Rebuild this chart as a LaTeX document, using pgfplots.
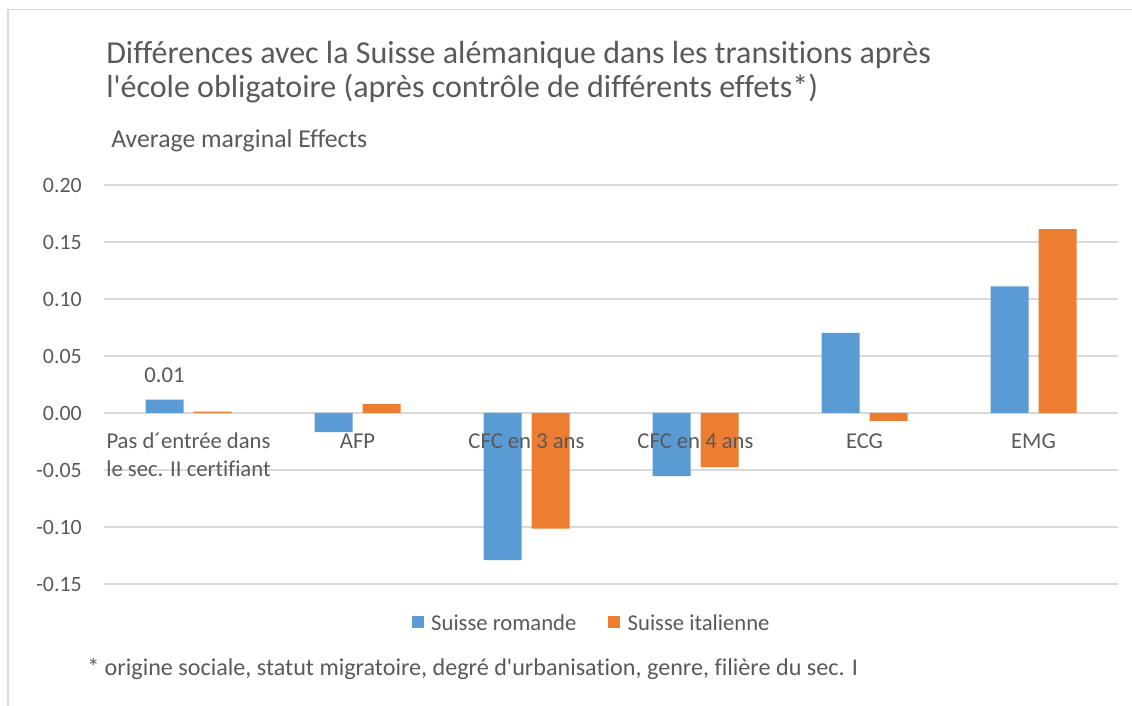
\documentclass[border=0pt]{standalone}
\usepackage{pgfplots}
\pgfplotsset{compat=1.18}
\usepackage{fontspec}
\setmainfont{Carlito}[Ligatures={NoCommon}]
\definecolor{txt}{HTML}{595959}
\definecolor{gridc}{HTML}{D9D9D9}
\definecolor{cblue}{HTML}{5B9BD5}
\definecolor{corange}{HTML}{ED7D31}
\newcommand{\lab}{\fontsize{17bp}{21bp}\selectfont}
\newcommand{\ylab}{\fontsize{16.4bp}{20bp}\selectfont}
\pgfplotsset{base/.style={
  at={(78bp,91.5bp)}, anchor=south west,
  scale only axis, width=760.5bp, height=299.25bp,
  xmin=-0.5, xmax=5.5, ymin=-0.15, ymax=0.20,
  axis line style={draw=none}, tick style={draw=none}}}
\begin{document}
\begin{tikzpicture}
\path[use as bounding box] (0bp,0bp) rectangle (849bp,529.5bp);
\draw[gridc, line width=1.2bp] (6bp,522.4bp) -- (849bp,522.4bp);
\draw[gridc, line width=1.2bp] (6bp,522.4bp) -- (6bp,0bp);
\node[anchor=base west, inner sep=0pt, text=txt, font=\fontsize{24bp}{27bp}\selectfont] at (79.5bp,481.5bp) {Différences avec la Suisse alémanique dans les transitions après};
\node[anchor=base west, inner sep=0pt, text=txt, font=\fontsize{24bp}{27bp}\selectfont] at (79.5bp,456bp) {l\textquotesingle école obligatoire (après contrôle de différents effets*)};
\node[anchor=base west, inner sep=0pt, text=txt, font=\fontsize{19.3bp}{23bp}\selectfont] at (83.25bp,418.5bp) {Average marginal Effects};
\node[anchor=base west, inner sep=0pt, text=txt, font=\fontsize{18.1bp}{22bp}\selectfont] at (65.25bp,23.25bp) {* origine sociale, statut migratoire, degré d\textquotesingle urbanisation, genre, filière du sec. I};
\begin{axis}[
  base,
  ymajorgrids, major grid style={gridc, line width=1.1bp},
  ytick={-0.15,-0.10,-0.05,0,0.05,0.10,0.15,0.20},
  yticklabel style={font=\ylab, text=txt, anchor=east, inner sep=0pt, xshift=-16.5bp,
    /pgf/number format/.cd, fixed, fixed zerofill, precision=2, assume math mode=true},
  xtick=\empty,
  ybar, bar width=28.5bp,
  legend style={at={(0.48,-0.1)}, anchor=center, draw=none, fill=none, font=\lab, text=txt,
    legend columns=2, inner sep=0pt, nodes={inner sep=0pt},
    /tikz/every odd column/.append style={column sep=5.5bp},
    /tikz/every even column/.append style={column sep=24bp}},
  legend image code/.code={\fill[#1, draw=none] (0bp,-3.2bp) rectangle (9bp,5.8bp);},
]
\addplot[fill=cblue, draw=none, bar shift=-18bp] coordinates {(0,0.0117) (1,-0.0167) (2,-0.129) (3,-0.0553) (4,0.0702) (5,0.111)};
\addplot[fill=corange, draw=none, bar shift=18bp] coordinates {(0,0.0011) (1,0.0080) (2,-0.1015) (3,-0.0474) (4,-0.0070) (5,0.1614)};
\legend{Suisse romande, Suisse italienne}
\node[anchor=base, inner sep=0pt, font=\lab, text=txt] at ([xshift=-18bp, yshift=12.5bp]axis cs:0,0.0117) {0.01};
\end{axis}
\begin{axis}[
  base,
  ytick=\empty,
  xtick={0,...,5},
  xticklabels={{\strut Pas d´entrée dans\\le sec. II certifiant},{\strut AFP},{\strut CFC en 3 ans},{\strut CFC en 4 ans},{\strut ECG},{\strut EMG}},
  xticklabel style={font=\lab, text=txt, align=center, anchor=north, inner sep=0pt, yshift=116.5bp},
]
\end{axis}
\end{tikzpicture}
\end{document}
